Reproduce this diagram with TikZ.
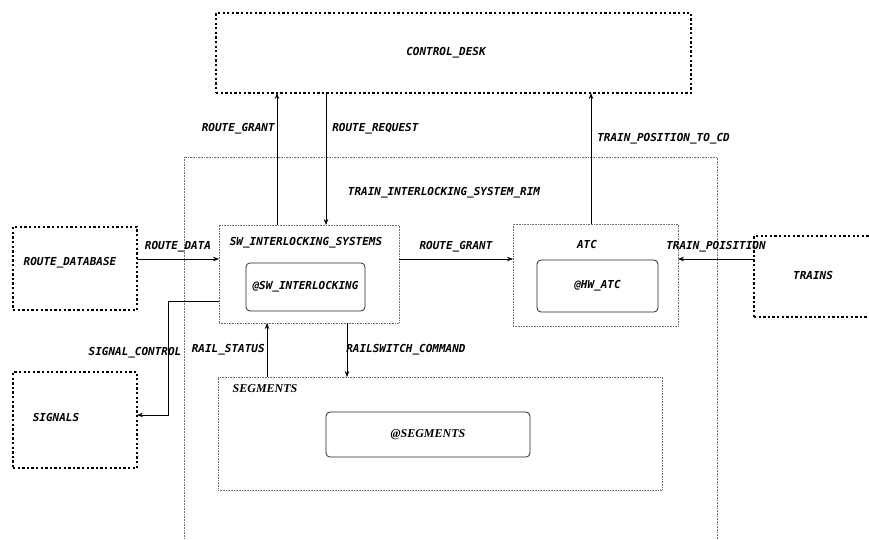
\documentclass[tikz,border=0pt]{standalone}
\usepackage{fontspec}
\setmonofont{DejaVu Sans Mono}
\newfontfamily\segfont{Liberation Serif}
\usetikzlibrary{arrows.meta, positioning, calc}
\definecolor{rimgray}{RGB}{110,110,110}
\tikzset{
  extbox/.style={draw=black, line width=1.4pt, dash pattern=on 2.3pt off 2.3pt,
                 inner sep=0pt, outer sep=0pt},
  sysbox/.style={draw=rimgray, line width=0.6pt, densely dotted, inner sep=0pt, outer sep=0pt},
  inbox/.style={draw=black!85, line width=0.8pt, rounded corners=4pt, inner sep=0pt, outer sep=0pt,
                font=\fontsize{11}{12}\selectfont\ttfamily\bfseries\itshape},
  lbl/.style={font=\fontsize{11}{12}\selectfont\ttfamily\bfseries\itshape, inner sep=2pt},
  seglbl/.style={font=\fontsize{12}{13}\selectfont\segfont\bfseries\itshape, inner sep=2pt},
  arrow/.style={-{Stealth[length=6pt, width=4.5pt]}, line width=0.7pt, black},
}

\begin{document}
\begin{tikzpicture}[x=1pt, y=-1pt]
  \useasboundingbox (0,0) rectangle (869,540);
  \clip (0,0) rectangle (869,540);

  \node[extbox, minimum width=475pt, minimum height=80pt] (desk) at (453.5,53) {};
  \node[lbl] (desklbl) at (446,53) {CONTROL\_DESK};

  \node[sysbox, minimum width=533pt, minimum height=393pt] (rim) at (450.5,353.5) {};
  \node[lbl] (rimlbl) at (444,193) {TRAIN\_INTERLOCKING\_SYSTEM\_RIM};

  \node[sysbox, minimum width=180pt, minimum height=98pt] (sw) at (309,274) {};
  \node[lbl] (swlbl) at (306,243) {SW\_INTERLOCKING\_SYSTEMS};
  \node[inbox, minimum width=119pt, minimum height=48pt] (swin) at (305.5,287) {@SW\_INTERLOCKING};

  \node[sysbox, minimum width=165pt, minimum height=102pt] (atc) at (595.5,275) {};
  \node[lbl] (atclbl) at (587,244) {ATC};
  \node[inbox, minimum width=121pt, minimum height=52pt] (hwatc) at (597.5,286) {@HW\_ATC};

  \node[extbox, minimum width=124pt, minimum height=83pt] (dbase) at (75,268.5) {};
  \node[lbl] (dbaselbl) at (70,263) {ROUTE\_DATABASE};

  \node[extbox, minimum width=118pt, minimum height=81pt] (trains) at (813,276.5) {};
  \node[lbl] (trainslbl) at (813,275) {TRAINS};

  \node[extbox, minimum width=124pt, minimum height=96pt] (signals) at (75,420) {};
  \node[lbl] (signalslbl) at (56,417) {SIGNALS};

  \node[sysbox, minimum width=444pt, minimum height=113pt] (segs) at (440,433.5) {};
  \node[seglbl] (segslbl) at (265,389) {SEGMENTS};
  \node[inbox, font=\fontsize{12}{13}\selectfont\segfont\bfseries\itshape,
        minimum width=204pt, minimum height=45pt] (segsin) at (428,434.5) {@SEGMENTS};

  \coordinate (rg) at ([xshift=58pt]sw.north west);
  \coordinate (rr) at ([xshift=107pt]sw.north west);
  \coordinate (tp) at ([xshift=78pt]atc.north west);
  \coordinate (rd) at ([yshift=-34pt]sw.north west);
  \coordinate (sc) at ([yshift=-76pt]sw.north west);
  \coordinate (rs) at ([xshift=48pt]sw.south west);
  \coordinate (cm) at ([xshift=128pt]sw.south west);

  \draw[arrow] (rg) -- (rg |- desk.south) node[lbl, pos=0.73, left] {ROUTE\_GRANT};
  \draw[arrow] (rr |- desk.south) -- (rr) node[lbl, pos=0.27, right=4pt] {ROUTE\_REQUEST};
  \draw[arrow] (tp) -- (tp |- desk.south) node[lbl, pos=0.65, right=4pt] {TRAIN\_POSITION\_TO\_CD};

  \draw[arrow] (dbase.east |- rd) -- (rd) node[lbl, midway, above=5pt] {ROUTE\_DATA};
  \draw[arrow] (sw.east |- rd) -- (atc.west |- rd) node[lbl, midway, above=5pt] {ROUTE\_GRANT};
  \draw[arrow] (trains.west |- rd) -- (atc.east |- rd) node[lbl, midway, above=5pt] {TRAIN\_POISITION};

  \draw[arrow] (sc) -- ++(-51,0) |- ([yshift=5pt]signals.east);
  \node[lbl] (sclbl) at (135,353) {SIGNAL\_CONTROL};

  \draw[arrow] (rs |- segs.north) -- (rs) node[lbl, midway, left] {RAIL\_STATUS};
  \draw[arrow] (cm) -- (cm |- segs.north) node[lbl, midway, right=-3pt] {RAILSWITCH\_COMMAND};
\end{tikzpicture}
\end{document}
